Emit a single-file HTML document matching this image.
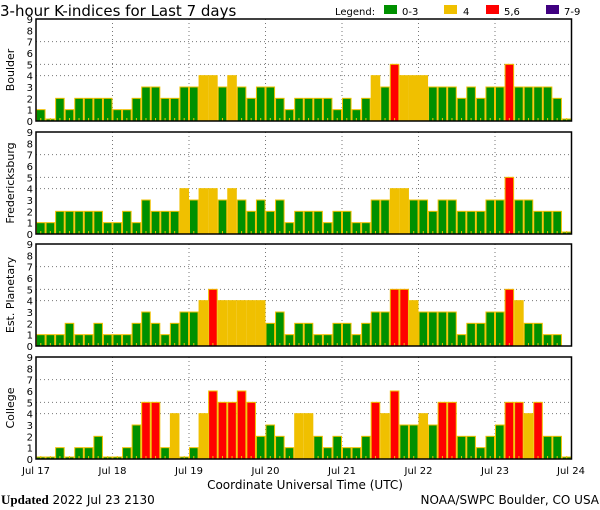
<!DOCTYPE html>
<html><head><meta charset="utf-8"><style>
html,body{margin:0;padding:0;background:#fff;}
svg{display:block;font-family:"DejaVu Sans","Liberation Sans",sans-serif;}
</style></head><body>
<svg id="s" width="600" height="510" xmlns="http://www.w3.org/2000/svg">
<text x="0" y="16" font-size="15">3-hour K-indices for Last 7 days</text>
<text x="335" y="15" font-size="10">Legend:</text>
<rect x="384" y="5" width="13" height="9" fill="#009000"/><text x="402" y="15" font-size="10">0-3</text>
<rect x="444" y="5" width="13" height="9" fill="#f0c000"/><text x="463" y="15" font-size="10">4</text>
<rect x="486" y="5" width="13" height="9" fill="#ff0000"/><text x="504" y="15" font-size="10">5,6</text>
<rect x="546" y="5" width="13" height="9" fill="#400080"/><text x="564" y="15" font-size="10">7-9</text>
<text transform="translate(14,70) rotate(-90)" text-anchor="middle" font-size="11">Boulder</text>
<text transform="translate(14,183) rotate(-90)" text-anchor="middle" font-size="11">Fredericksburg</text>
<text transform="translate(14,295) rotate(-90)" text-anchor="middle" font-size="11">Est. Planetary</text>
<text transform="translate(14,408) rotate(-90)" text-anchor="middle" font-size="11">College</text>
<g font-size="10" text-anchor="middle">
<text x="36" y="474">Jul 17</text><text x="112.5" y="474">Jul 18</text><text x="189" y="474">Jul 19</text><text x="265.5" y="474">Jul 20</text><text x="342" y="474">Jul 21</text><text x="418.5" y="474">Jul 22</text><text x="495" y="474">Jul 23</text><text x="571" y="474">Jul 24</text>
</g>
<text x="305" y="489" font-size="12" text-anchor="middle">Coordinate Universal Time (UTC)</text>
<text x="1" y="504" font-size="12"><tspan font-weight="bold" font-family="Liberation Serif,serif" font-size="13">Updated</tspan> 2022 Jul 23 2130</text>
<text x="599" y="504" font-size="12" text-anchor="end">NOAA/SWPC Boulder, CO USA</text>
<g id="g"></g>
</svg>
<script>
var data=[
[1,0,2,1,2,2,2,2,1,1,2,3,3,2,2,3,3,4,4,3,4,3,2,3,3,2,1,2,2,2,2,1,2,1,2,4,3,5,4,4,4,3,3,3,2,3,2,3,3,5,3,3,3,3,2,0],
[1,1,2,2,2,2,2,1,1,2,1,3,2,2,2,4,3,4,4,3,4,3,2,3,2,3,1,2,2,2,1,2,2,1,1,3,3,4,4,3,3,2,3,3,2,2,2,3,3,5,3,3,2,2,2,0],
[1,1,1,2,1,1,2,1,1,1,2,3,2,1,2,3,3,4,5,4,4,4,4,4,2,3,1,2,2,1,1,2,2,1,2,3,3,5,5,4,3,3,3,3,1,2,2,3,3,5,4,2,2,1,1,-1],
[0,0,1,0,1,1,2,0,0,1,3,5,5,1,4,0,1,4,6,5,5,6,5,2,3,2,1,4,4,2,1,2,1,1,2,5,4,6,3,3,4,3,5,5,2,2,1,2,3,5,5,4,5,2,2,0]];
var tops=[19,132,244,357],H=102,L=36,R=571.5,u=H/9,bw=(R-L)/56,s="";
tops.forEach(function(t,p){
 var b=t+H;
 for(var k=0;k<=9;k++){s+='<text x="33" y="'+(b-k*u+4)+'" font-size="10" text-anchor="end">'+k+'</text>';}
 [4,5,7].forEach(function(k){s+='<line x1="'+L+'" x2="'+R+'" y1="'+(b-k*u)+'" y2="'+(b-k*u)+'" stroke="#777" stroke-dasharray="1,3"/>';});
 for(var d=1;d<7;d++){var x=L+d*bw*8;s+='<line x1="'+x+'" x2="'+x+'" y1="'+t+'" y2="'+b+'" stroke="#777" stroke-dasharray="1,3"/>';}
 data[p].forEach(function(v,i){
  if(v<0)return;
  var x=L+i*bw,h=v==0?2:v*u,c=v<=3?"#009000":v==4?"#f0c000":v<=6?"#ff0000":"#400080";
  s+='<rect x="'+(x+0.5)+'" y="'+(b-h)+'" width="'+(bw-1)+'" height="'+h+'" fill="'+c+'" stroke="#f0c000" stroke-width="1"/>';
  s+='<line x1="'+(x+bw/2)+'" x2="'+(x+bw/2)+'" y1="'+(b-3)+'" y2="'+b+'" stroke="#f0c000"/>';
 });
 s+='<rect x="'+L+'" y="'+t+'" width="'+(R-L)+'" height="'+H+'" fill="none" stroke="#000" stroke-width="1.5"/>';
});
document.getElementById("g").innerHTML=s;
</script>
</body></html>
